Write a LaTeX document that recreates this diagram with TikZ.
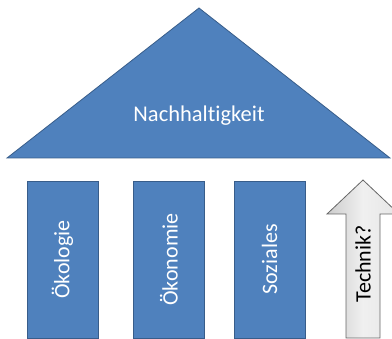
\documentclass[tikz,border=0pt]{standalone}
\usepackage{fontspec}
\setmainfont{Carlito}[Ligatures=NoCommon]
\definecolor{pillarblue}{HTML}{4F81BD}
\definecolor{pillarline}{HTML}{385D8A}
\tikzset{
  pillar/.style={draw=pillarline, fill=pillarblue, line width=0.8pt, inner sep=0pt,
    rotate=90, minimum width=157pt, minimum height=71pt, text=white,
    font=\fontsize{22}{26}\selectfont},
}
\begin{document}
\begin{tikzpicture}[x=1pt, y=-1pt]
    \useasboundingbox (0,0) rectangle (392,339);
    \clip (0,0) rectangle (392,339);

    % Roof
    \draw[draw=pillarline, fill=pillarblue, line width=0.8pt, line join=miter]
        (199,8) -- (390,158) -- (7,158) -- cycle;
    \node[text=white, font=\fontsize{22.5}{26}\selectfont] (roof) at (199,116) {Nachhaltigkeit};

    % Pillars
    \foreach \x/\name/\txt in {62.5/oeko/Ökologie, 169/oekon/Ökonomie, 269.5/soz/Soziales} {
        \node[pillar] (\name) at (\x,259.5) {\txt};
    }

    % Technology arrow
    \draw[draw=black!60, line width=0.8pt, left color=gray!40, right color=gray!20, middle color=gray!12]
        (346,338) -- (346,214) -- (327,214) -- (363,180) -- (399,214) -- (380,214) -- (380,338) -- cycle;
    \node[rotate=90, font=\fontsize{22}{26}\selectfont] (tech) at (363,264) {Technik?};
\end{tikzpicture}
\end{document}
